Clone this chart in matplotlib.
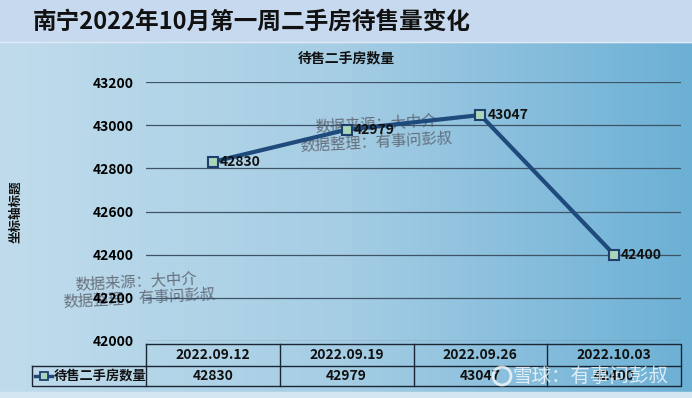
import numpy as np
import matplotlib
matplotlib.use("Agg")
import matplotlib.pyplot as plt
from matplotlib.colors import LinearSegmentedColormap

plt.rcParams['font.family'] = ['Noto Sans CJK SC', 'DejaVu Sans']

title = "南宁2022年10月第一周二手房待售量变化"
chart_title = "待售二手房数量"
series_name = "待售二手房数量"
y_label = "坐标轴标题"
categories = ["2022.09.12", "2022.09.19", "2022.09.26", "2022.10.03"]
values = [42830, 42979, 43047, 42400]
y_ticks = [42000, 42200, 42400, 42600, 42800, 43000, 43200]
source_lines = ["数据来源：大中介", "数据整理：有事问彭叔"]
xq_mark = "雪球：有事问彭叔"

W, H = 692, 398
fig = plt.figure(figsize=(W / 100, H / 100), dpi=100)

# background (figure pixel coords)
bg = fig.add_axes([0, 0, 1, 1])
bg.set_xlim(0, W)
bg.set_ylim(H, 0)
bg.axis('off')
cmap = LinearSegmentedColormap.from_list('g', ['#c0dcec', '#a5cde4', '#6cb0d5'])
grad = np.linspace(0, 1, 256).reshape(1, -1)
bg.imshow(grad, cmap=cmap, extent=[0, W, 392, 42], aspect='auto', zorder=0)
bg.add_patch(plt.Rectangle((0, 0), W, 42, color='#c7d9ee', zorder=1))
bg.add_patch(plt.Rectangle((0, 392), W, 6, color='#d3e6f2', zorder=1))
bg.plot([0, W], [42, 42], color='#dfeaf6', lw=1, zorder=2)
bg.text(252, 22, title, ha='center', va='center', fontsize=17,
        fontweight='bold', color='#111111', zorder=3)
bg.text(346, 58, chart_title, ha='center', va='center', fontsize=10,
        fontweight='bold', color='#111111', zorder=3)
bg.text(16, 212, y_label, ha='center', va='center', fontsize=9,
        fontweight='bold', rotation=90, color='#111111', zorder=3)

# main plot
left, right = 146 / W, 681 / W
bottom, top = 1 - 341 / H, 1 - 82 / H
ax = fig.add_axes([left, bottom, right - left, top - bottom])
ax.patch.set_alpha(0)
x = np.arange(len(categories))
ax.set_xlim(-0.5, len(categories) - 0.5)
ax.set_ylim(y_ticks[0], y_ticks[-1])
ax.set_yticks(y_ticks)
ax.set_yticklabels([str(t) for t in y_ticks], fontsize=10, fontweight='bold')
ax.tick_params(axis='y', length=0, pad=9)
ax.set_xticks([])
for s in ax.spines.values():
    s.set_visible(False)
ax.yaxis.grid(True, color='#3e5366', lw=0.9)
ax.set_axisbelow(True)
ax.plot(x, values, color='#1f4a7c', lw=3, marker='s', markersize=7,
        markerfacecolor='#a9d6b9', markeredgecolor='#1f3f6e', markeredgewidth=1.5,
        zorder=3)
for xi, v in zip(x, values):
    ax.annotate(str(v), (xi, v), xytext=(5, 0), textcoords='offset points',
                ha='left', va='center', fontsize=10, fontweight='bold',
                color='#111111', zorder=4)

# watermark texts (figure pixel coords)
wm = dict(fontsize=11, color='#5a5f6a', ha='left', va='center', rotation=3,
          alpha=0.85, zorder=5, rotation_mode='anchor')
bg.text(315, 127, source_lines[0], **wm)
bg.text(300, 146, source_lines[1], **wm)
bg.text(75, 285, source_lines[0], **wm)
bg.text(63, 302, source_lines[1], **wm)

# data table
t_top, t_mid, t_bot = 344, 366, 386
t_left, t_right, leg_left = 146, 681, 32
lc = '#1a2633'
colw = (t_right - t_left) / len(categories)
bg.plot([t_left, t_right, t_right, t_left, t_left],
        [t_top, t_top, t_bot, t_bot, t_top], color=lc, lw=1, zorder=4)
bg.plot([leg_left, t_left], [t_mid, t_mid], color=lc, lw=1, zorder=4)
bg.plot([leg_left, leg_left, t_left], [t_mid, t_bot, t_bot], color=lc, lw=1, zorder=4)
bg.plot([t_left, t_right], [t_mid, t_mid], color=lc, lw=1, zorder=4)
for i in range(1, len(categories)):
    xx = t_left + i * colw
    bg.plot([xx, xx], [t_top, t_bot], color=lc, lw=1, zorder=4)
for i, (c, v) in enumerate(zip(categories, values)):
    cx = t_left + (i + 0.5) * colw
    bg.text(cx, (t_top + t_mid) / 2, c, ha='center', va='center', fontsize=10,
            fontweight='bold', color='#111111', zorder=5)
    bg.text(cx, (t_mid + t_bot) / 2, str(v), ha='center', va='center', fontsize=10,
            fontweight='bold', color='#111111', zorder=5)
# legend key
bg.plot([35, 52], [376, 376], color='#1f4a7c', lw=2.5, zorder=5)
bg.plot([43.5], [376], marker='s', markersize=6, markerfacecolor='#a9d6b9',
        markeredgecolor='#1f3f6e', markeredgewidth=1.3, zorder=6)
bg.text(54, 376, series_name, ha='left', va='center', fontsize=9.5,
        fontweight='bold', color='#111111', zorder=5)

# xueqiu watermark
bg.text(591, 376, xq_mark, ha='center', va='center', fontsize=14,
        color='white', alpha=0.75, zorder=7)
bg.add_patch(plt.Circle((502, 376), 9, fill=False, ec='white', lw=2, alpha=0.75, zorder=7))

fig.savefig("out.png", dpi=100)
